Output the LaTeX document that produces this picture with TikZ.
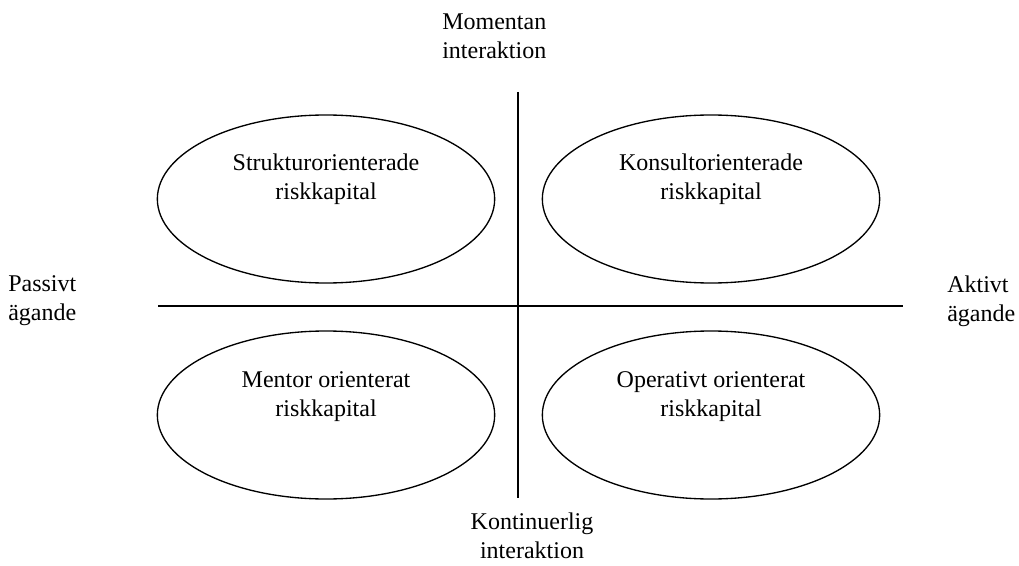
\documentclass[tikz,border=0pt]{standalone}
\usepackage{fontspec}
\setmainfont{Liberation Serif}
\usetikzlibrary{shapes.geometric}
\begin{document}
\begin{tikzpicture}[x=0.75pt,y=-0.75pt,
  axis/.style={line width=1.1pt},
  quad/.style={draw,ellipse,line width=1pt,minimum width=253pt,minimum height=126pt,inner sep=0pt},
  qtext/.style={align=center,font=\fontsize{18}{21.75}\selectfont,inner sep=0pt},
  pole/.style={font=\fontsize{18}{21.75}\selectfont,inner sep=0pt}]
\useasboundingbox (0,0) rectangle (1019,566);
% axes
\coordinate (vtop) at (518,92);
\coordinate (vbot) at (518,498);
\coordinate (hleft) at (158,306);
\coordinate (hright) at (903,306);
\draw[axis] (vtop) -- (vbot);
\draw[axis] (hleft) -- (hright);
% quadrant ellipses
\node[quad] (q1) at (326,199) {};
\node[quad] (q2) at (711,199) {};
\node[quad] (q3) at (326,415) {};
\node[quad] (q4) at (711,415) {};
\node[qtext] (t1) at (326,179) {Strukturorienterade\\riskkapital};
\node[qtext] (t2) at (711,179) {Konsultorienterade\\riskkapital};
\node[qtext] (t3) at (326,397) {Mentor orienterat\\riskkapital};
\node[qtext] (t4) at (711,397) {Operativt orienterat\\riskkapital};
% axis poles
\node[pole,align=left,anchor=west] (top) at (442,36) {Momentan\\interaktion};
\node[pole,align=center] (bottom) at (532,536) {Kontinuerlig\\interaktion};
\node[pole,align=left,anchor=west] (left) at (8,301) {Passivt\\ägande};
\node[pole,align=left,anchor=west] (right) at (947,301) {Aktivt\\ägande};
\end{tikzpicture}
\end{document}
